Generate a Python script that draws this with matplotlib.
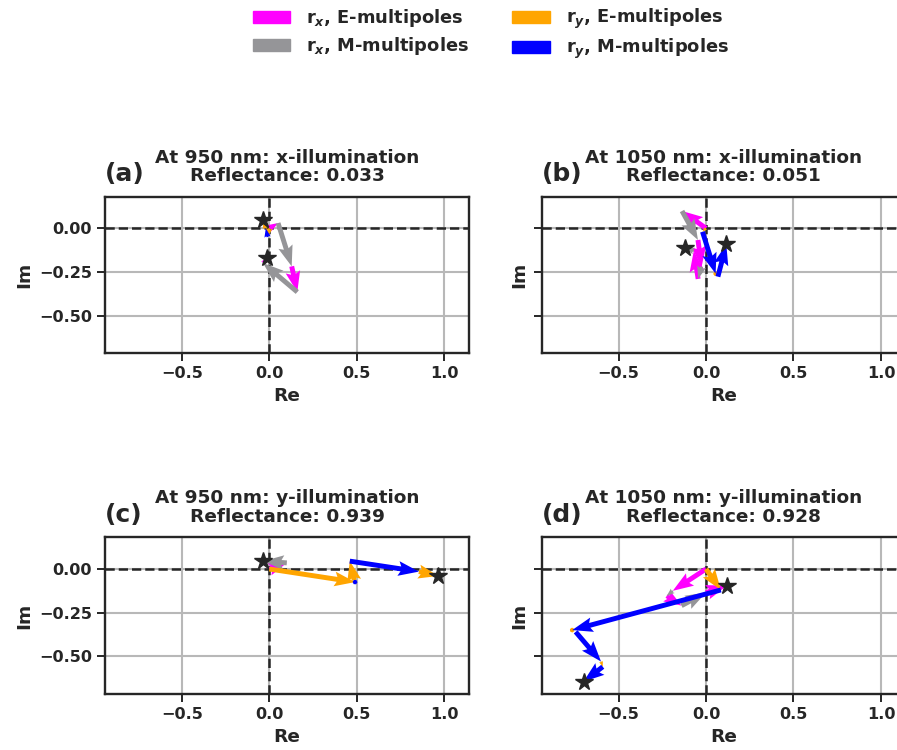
import numpy as np
import matplotlib
matplotlib.use("Agg")
import matplotlib.pyplot as plt
from matplotlib.patches import Patch

plt.rcParams['font.family'] = ['DejaVu Sans']
plt.rcParams['font.weight'] = 'bold'
plt.rcParams['axes.labelweight'] = 'bold'
plt.rcParams['axes.titleweight'] = 'bold'
plt.rcParams['text.color'] = '#262626'
plt.rcParams['axes.labelcolor'] = '#262626'
plt.rcParams['xtick.color'] = '#262626'
plt.rcParams['ytick.color'] = '#262626'
plt.rcParams['axes.edgecolor'] = '#262626'

# ---------------- data (multipole contributions: ED, EQ, EO ... / MD, MQ, MO ...) ----------------
titles = ["At 950 nm: x-illumination\nReflectance: 0.033",
          "At 1050 nm: x-illumination\nReflectance: 0.051",
          "At 950 nm: y-illumination\nReflectance: 0.939",
          "At 1050 nm: y-illumination\nReflectance: 0.928"]
panel_tags = ["(a)", "(b)", "(c)", "(d)"]

# panel (a)
a_rx_E = [(0.05, 0.03), (0.032, -0.147), (0.025, 0.03)]
a_rx_M = [(0.078, -0.248), (-0.196, 0.166)]
a_ry_E = [(-0.01, -0.05), (-0.014, 0.047)]
a_ry_M = [(-0.01, 0.05)]
# panel (b)
b_rx_E = [(-0.137, 0.099), (0.021, -0.153), (-0.025, 0.16)]
b_rx_M = [(0.091, -0.166), (-0.02, -0.07), (-0.052, 0.019)]
b_ry_E = [(-0.02, -0.02), (0.013, -0.017)]
b_ry_M = [(0.075, -0.24), (0.048, 0.185)]
# panel (c)
c_rx_E = [(0.1, 0.035)]
c_rx_M = [(-0.135, 0.01)]
c_ry_E = [(0.49, -0.075), (-0.025, 0.11), (0.11, -0.025)]
c_ry_M = [(-0.005, 0.01), (0.395, -0.06)]
# panel (d)
d_rx_E = [(-0.19, -0.125), (0.085, -0.055), (0.12, 0.04)]
d_rx_M = [(-0.035, -0.03), (0.14, 0.075)]
d_ry_E = [(0.085, -0.12), (0.02, -0.01), (0.01, -0.03)]
d_ry_M = [(-0.85, -0.23), (0.145, -0.17), (-0.11, -0.085)]

panels = [(a_rx_E, a_rx_M, a_ry_E, a_ry_M),
          (b_rx_E, b_rx_M, b_ry_E, b_ry_M),
          (c_rx_E, c_rx_M, c_ry_E, c_ry_M),
          (d_rx_E, d_rx_M, d_ry_E, d_ry_M)]

col_rxE = '#ff00ff'
col_rxM = '#959598'
col_ryE = '#ffa500'
col_ryM = '#0000ff'
legend_labels = [r"r$_x$, E-multipoles", r"r$_x$, M-multipoles",
                 r"r$_y$, E-multipoles", r"r$_y$, M-multipoles"]

# ---------------- figure ----------------
W, H = 897, 750
fig = plt.figure(figsize=(W / 100, H / 100), dpi=100)
axw, axh = 364.3, 156.6
lefts = [105, 541.7]
bottoms_px = [353.3, 694.0]
xlim = (-0.939, 1.143)
ylim = (-0.716, 0.181)


def chain(E, M):
    """interleave E/M contributions, return tails, vectors, kinds"""
    seq = []
    for i in range(max(len(E), len(M))):
        if i < len(E):
            seq.append(('E', E[i]))
        if i < len(M):
            seq.append(('M', M[i]))
    pos = np.zeros(2)
    out = {'E': [], 'M': []}
    for kind, v in seq:
        v = np.array(v)
        out[kind].append((pos[0], pos[1], v[0], v[1]))
        pos = pos + v
    return out, pos


qkw = dict(angles='xy', scale_units='xy', scale=1, width=0.0135,
           headwidth=3, headlength=4.2, headaxislength=3.7)

for k in range(4):
    r, c = divmod(k, 2)
    ax = fig.add_axes([lefts[c] / W, (H - bottoms_px[r]) / H, axw / W, axh / H])
    ax.set_xlim(*xlim)
    ax.set_ylim(*ylim)
    ax.set_xticks([-0.5, 0.0, 0.5, 1.0])
    ax.set_yticks([-0.5, -0.25, 0.0])
    ax.grid(True, color='#b8b8b8', lw=1.5, zorder=0)
    ax.set_axisbelow(True)
    ax.axhline(0, color='#262626', ls='--', lw=1.8, zorder=1)
    ax.axvline(0, color='#262626', ls='--', lw=1.8, zorder=1)
    for s in ax.spines.values():
        s.set_linewidth(1.7)
    ax.tick_params(labelsize=11.6, length=6, width=1.4)
    if c == 1:
        ax.tick_params(labelleft=False)
    ax.set_xlabel("Re", fontsize=13.3)
    ax.set_ylabel("Im", fontsize=13.3)
    ax.set_title(titles[k], fontsize=13.3, pad=9, linespacing=1.05)
    ax.set_title(panel_tags[k], loc='left', fontsize=18, pad=11)

    rxE, rxM, ryE, ryM = panels[k]
    rx, rx_end = chain(rxE, rxM)
    ry, ry_end = chain(ryE, ryM)
    for arr, col in [(rx['E'], col_rxE), (rx['M'], col_rxM),
                     (ry['E'], col_ryE), (ry['M'], col_ryM)]:
        if arr:
            a = np.array(arr)
            ax.quiver(a[:, 0], a[:, 1], a[:, 2], a[:, 3], color=col, zorder=3, **qkw)
    ax.plot([rx_end[0], ry_end[0]], [rx_end[1], ry_end[1]], ls='none', marker='*',
            ms=13, color='#262626', zorder=5)

handles = [Patch(color=col_rxE), Patch(color=col_rxM),
           Patch(color=col_ryE), Patch(color=col_ryM)]
fig.legend(handles, legend_labels, loc='upper center', bbox_to_anchor=(491 / W, 1.012),
           ncol=2, frameon=False, fontsize=12.9, handlelength=2.1, handletextpad=0.9,
           columnspacing=2.4, labelspacing=0.33)

fig.savefig("out.png", dpi=100)
